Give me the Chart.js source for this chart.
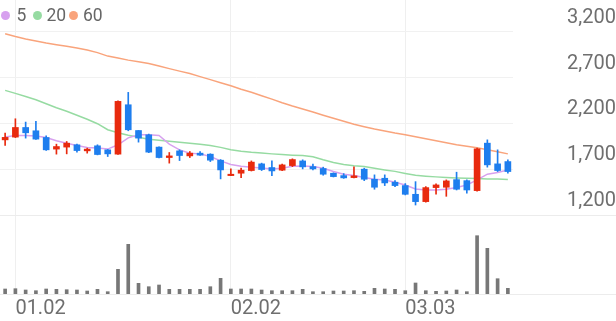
<!DOCTYPE html>
<html>
<head>
<meta charset="utf-8">
<script src="https://cdn.jsdelivr.net/npm/chart.js@4.4.1/dist/chart.umd.min.js"></script>
<style>
  html, body { margin: 0; padding: 0; background: #fff; }
  #wrap { position: relative; width: 616px; height: 321px; }
  #legend { position: absolute; left: 0; top: 0; width: 120px; height: 30px;
            font: 17.5px Roboto, sans-serif; color: #666; }
  #legend i { position: absolute; top: 10.5px; width: 9px; height: 9px; border-radius: 50%; }
  #legend span { position: absolute; top: 4px; line-height: 22px; }
</style>
</head>
<body>
<div id="wrap">
  <canvas id="graphique" width="616" height="321"></canvas>
  <div id="legend"></div>
</div>
<script>
// daily data
var dates = ['12.29','01.02','01.03','01.04','01.05','01.08','01.09','01.10','01.11','01.12',
             '01.15','01.16','01.17','01.18','01.19','01.22','01.23','01.24','01.25','01.26',
             '01.29','01.30','02.02','02.05','02.06','02.07','02.08','02.13','02.14','02.15',
             '02.16','02.19','02.20','02.21','02.22','02.23','02.26','02.27','02.28','03.03',
             '03.04','03.05','03.06','03.07','03.10','03.11','03.12','03.13','03.14','03.17'];
var tickLabels = ['01.02', '02.02', '03.03'];
var priceTicks = [1200, 1700, 2200, 2700, 3200];

var open  = [2020,2050,2155,2119,2046,1919,1941,1966,1900,1955,
             1911,1864,2403,2122,2075,1941,1827,1900,1845,1875,
             1864,1798,1630,1656,1685,1758,1718,1689,1739,1790,
             1728,1707,1656,1630,1608,1700,1590,1601,1558,1521,
             1426,1346,1499,1503,1586,1575,1466,1984,1758,1783];
var close = [2047,2155,2097,2028,1911,1947,1984,1903,1919,1860,
             1867,2440,2130,2039,1886,1827,1845,1849,1875,1853,
             1798,1692,1645,1689,1777,1696,1681,1747,1805,1725,
             1703,1645,1619,1605,1627,1590,1503,1550,1521,1426,
             1346,1499,1528,1572,1481,1473,1922,1747,1685,1674];
var high  = [2094,2250,2214,2221,2065,1973,2002,1973,1930,1966,
             1915,2445,2538,2122,2083,1945,1882,1911,1893,1893,
             1868,1805,1703,1711,1790,1766,1790,1755,1813,1802,
             1755,1722,1660,1652,1725,1711,1638,1638,1575,1543,
             1564,1510,1539,1583,1667,1583,1930,2020,1911,1802];
var low   = [1958,2045,2039,2025,1905,1864,1867,1886,1875,1856,
             1838,1860,2119,1995,1880,1822,1766,1794,1827,1850,
             1783,1594,1630,1608,1680,1685,1630,1685,1728,1703,
             1692,1634,1615,1600,1605,1575,1481,1521,1510,1419,
             1309,1340,1426,1404,1473,1437,1460,1722,1674,1656];
var volume = [50000,53000,40000,33000,50000,47000,43000,40000,30000,47000,
              23000,247000,497000,107000,73000,90000,47000,47000,47000,47000,
              73000,157000,50000,50000,50000,40000,33000,33000,33000,47000,
              23000,23000,30000,30000,33000,27000,57000,50000,47000,33000,
              110000,33000,27000,30000,40000,23000,583000,457000,153000,57000];

var ma5  = [2050,2068,2068,2061,2046,2010,1984,1958,1936,1930,
            1919,1966,2042,2075,2075,2068,1973,1911,1875,1867,
            1838,1791,1752,1731,1720,1714,1703,1709,1731,1736,
            1728,1711,1674,1645,1630,1608,1591,1583,1558,1528,
            1484,1474,1474,1481,1499,1528,1583,1645,1663,1692];
var ma20 = [2560,2527,2493,2458,2414,2371,2332,2289,2245,2196,
            2130,2097,2070,2048,2026,2015,2004,1993,1982,1971,
            1958,1938,1911,1895,1884,1876,1867,1860,1853,1848,
            1835,1802,1772,1752,1738,1728,1709,1692,1676,1654,
            1634,1624,1616,1610,1605,1601,1597,1594,1592,1588];
var ma60 = [3177,3147,3120,3098,3076,3058,3041,3022,3000,2972,
            2934,2912,2890,2871,2852,2825,2797,2770,2743,2710,
            2677,2644,2611,2573,2540,2502,2464,2425,2389,2356,
            2324,2289,2256,2223,2190,2163,2138,2116,2094,2075,
            2053,2031,2010,1988,1966,1949,1933,1911,1889,1867];

var UP = 'rgb(232,42,14)', DOWN = 'rgb(30,126,238)';
var candleColor = open.map(function(o, i) { return close[i] >= o ? UP : DOWN; });

var maLines = [
  { label: '5',  data: ma5,  color: '#d7a1ef' },
  { label: '20', data: ma20, color: '#96dba2' },
  { label: '60', data: ma60, color: '#f9a47c' }
];

// legend (dot left / text left per item)
var legendPos = [[1, 16.5], [32.5, 46.5], [69, 83]];
var legend = document.getElementById('legend');
maLines.forEach(function(m, k) {
  legend.innerHTML += '<i style="left:' + legendPos[k][0] + 'px;background:' + m.color + '"></i>' +
                      '<span style="left:' + legendPos[k][1] + 'px">' + m.label + '</span>';
});

// full-width separators (price panel bottom and volume baseline)
var panelLines = {
  id: 'panelLines',
  beforeDatasetsDraw: function(chart) {
    var ctx = chart.ctx;
    var y1 = Math.round(chart.scales.y.getPixelForValue(priceTicks[0])) + 0.5;
    var y2 = Math.round(chart.chartArea.bottom) + 0.5;
    ctx.save();
    ctx.strokeStyle = '#ececec';
    ctx.lineWidth = 1;
    ctx.beginPath();
    ctx.moveTo(0, y1); ctx.lineTo(chart.width, y1);
    ctx.moveTo(0, y2); ctx.lineTo(chart.width, y2);
    ctx.stroke();
    ctx.restore();
  }
};

var datasets = [
  {
    type: 'bar', label: 'body', order: 0, yAxisID: 'y', grouped: false,
    data: open.map(function(o, i) { return [o, close[i]]; }),
    backgroundColor: candleColor, barThickness: 6, minBarLength: 1
  },
  {
    type: 'bar', label: 'wick', order: 1, yAxisID: 'y', grouped: false,
    data: low.map(function(l, i) { return [l, high[i]]; }),
    backgroundColor: candleColor, barThickness: 1
  }
];
maLines.forEach(function(m, k) {
  datasets.push({
    type: 'line', label: m.label, order: 2 + k, yAxisID: 'y', data: m.data,
    borderColor: m.color, borderWidth: 1.5, pointRadius: 0, tension: 0, fill: false
  });
});
datasets.push({
  type: 'bar', label: 'volume', order: 6, yAxisID: 'v', grouped: false,
  data: volume, backgroundColor: '#777777', barThickness: 3
});

var chart = new Chart(document.getElementById('graphique'), {
  data: { labels: dates, datasets: datasets },
  plugins: [panelLines],
  options: {
    responsive: false,
    animation: false,
    events: [],
    layout: { padding: 0 },
    plugins: { legend: { display: false }, tooltip: { enabled: false } },
    scales: {
      x: {
        type: 'category',
        offset: true,
        border: { display: false },
        grid: {
          offset: false,
          drawTicks: false,
          color: function(c) { return tickLabels.indexOf(dates[c.index]) >= 0 ? '#efefef' : 'rgba(0,0,0,0)'; }
        },
        ticks: {
          autoSkip: false, maxRotation: 0, align: 'start', padding: 3,
          color: '#6f6f6f', font: { family: 'Roboto', size: 20 },
          callback: function(v, i) { return tickLabels.indexOf(dates[i]) >= 0 ? dates[i] : ''; }
        },
        afterFit: function(s) { s.height = 27; s.paddingLeft = 0; s.paddingRight = 0; }
      },
      y: {
        position: 'right',
        min: 338, max: 3546,
        border: { display: false },
        grid: { color: '#f1f1f1', drawTicks: false },
        afterBuildTicks: function(s) { s.ticks = priceTicks.map(function(v) { return { value: v }; }); },
        ticks: {
          padding: 49, crossAlign: 'far', labelOffset: -14,
          color: '#6f6f6f', font: { family: 'Roboto', size: 20 },
          callback: function(v) { return v.toLocaleString('en-US'); }
        },
        afterFit: function(s) { s.width = 103; s.paddingTop = 0; s.paddingBottom = 0; }
      },
      v: {
        display: false, min: 0, max: 2940000
      }
    }
  }
});
</script>
</body>
</html>
